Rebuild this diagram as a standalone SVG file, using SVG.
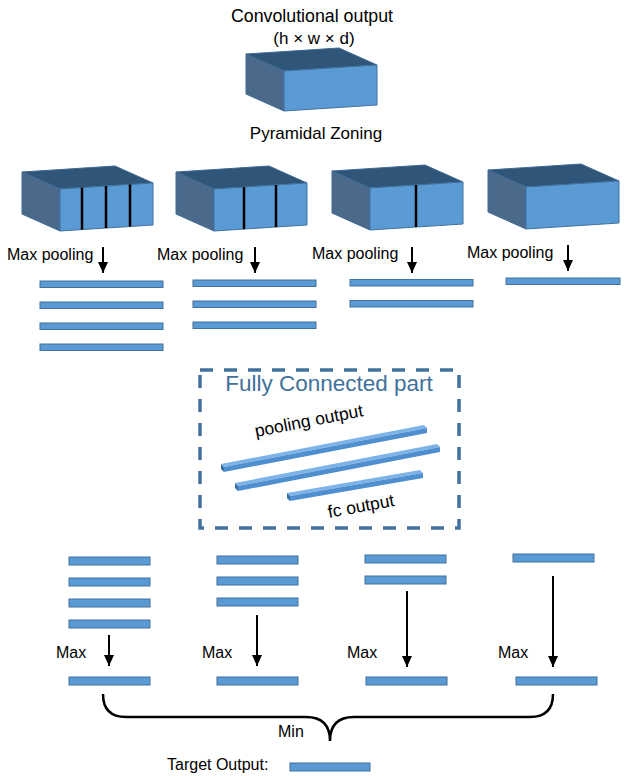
<svg xmlns="http://www.w3.org/2000/svg" xmlns:xlink="http://www.w3.org/1999/xlink" width="624" height="776" viewBox="0 0 624 776">
<style>
text{font-family:"Liberation Sans",Arial,sans-serif;fill:#000}
.t17{font-size:17px}
.t16{font-size:16px}
.top{fill:#2F5579;stroke:#3F6A94;stroke-width:1}
.left{fill:#4B6A8B;stroke:#3F6A94;stroke-width:1}
.front{fill:#5B9BD5;stroke:#41719C;stroke-width:1}
.bar{fill:#5B9BD5;stroke:#41719C;stroke-width:1}
.div{stroke:#000;stroke-width:2.5}
.arr{stroke:#000;stroke-width:2;fill:none;marker-end:url(#ah)}
.rtop{fill:#7DB3E6}
.rfront{fill:#4F8FCF}
.rcap{fill:#3B6EA0}
</style>
<defs>
<marker id="ah" markerUnits="userSpaceOnUse" markerWidth="11" markerHeight="10" refX="11" refY="5" orient="auto">
<path d="M0,0 L11,5 L0,10 z" fill="#000"/>
</marker>
<g id="box">
<polygon class="top" points="0,0 93,-6 131,11 38,17"/>
<polygon class="left" points="0,0 38,17 38,59 0,42"/>
<polygon class="front" points="38,17 131,11 131,53 38,59"/>
</g>
<g id="boxS">
<polygon class="top" points="0,0 93,-6 131,11 38,17"/>
<polygon class="left" points="0,0 38,17 38,57 0,40"/>
<polygon class="front" points="38,17 131,11 131,51 38,57"/>
</g>
</defs>

<g id="conv-output">
<text class="t17" x="312" y="22" text-anchor="middle" style="font-size:17.8px">Convolutional output</text>
<text class="t17" x="314" y="44" text-anchor="middle">(h × w × d)</text>
<use xlink:href="#boxS" transform="translate(246,54)"/>
</g>

<g id="pyramidal-zoning">
<text class="t17" x="316" y="139" text-anchor="middle">Pyramidal Zoning</text>
</g>

<g id="zone-4">
<use xlink:href="#box" transform="translate(22,172)"/>
<line class="div" x1="82" y1="187.6" x2="82" y2="229.6"/>
<line class="div" x1="106" y1="186" x2="106" y2="228"/>
<line class="div" x1="130" y1="184.5" x2="130" y2="226.5"/>
<text class="t16" x="7" y="260">Max pooling</text>
</g>
<g id="zone-3">
<use xlink:href="#box" transform="translate(176,172)"/>
<line class="div" x1="244" y1="187.1" x2="244" y2="229.1"/>
<line class="div" x1="276" y1="185" x2="276" y2="227"/>
<text class="t16" x="157" y="260">Max pooling</text>
</g>
<g id="zone-2">
<use xlink:href="#box" transform="translate(332,171)"/>
<line class="div" x1="416" y1="185" x2="416" y2="227"/>
<text class="t16" x="312" y="259">Max pooling</text>
</g>
<g id="zone-1">
<use xlink:href="#box" transform="translate(488,170)"/>
<text class="t16" x="467" y="258">Max pooling</text>
</g>

<g id="pooled-4">
<rect class="bar" x="40" y="281" width="123" height="6.5"/>
<rect class="bar" x="40" y="302" width="123" height="6.5"/>
<rect class="bar" x="40" y="323" width="123" height="6.5"/>
<rect class="bar" x="40" y="344" width="123" height="6.5"/>
</g>
<g id="pooled-3">
<rect class="bar" x="193" y="280" width="123" height="6.5"/>
<rect class="bar" x="193" y="301" width="123" height="6.5"/>
<rect class="bar" x="193" y="322" width="123" height="6.5"/>
</g>
<g id="pooled-2">
<rect class="bar" x="350" y="279.5" width="123" height="6.5"/>
<rect class="bar" x="350" y="300.5" width="123" height="6.5"/>
</g>
<g id="pooled-1">
<rect class="bar" x="506" y="278" width="114" height="6.5"/>
</g>

<g id="fully-connected">
<rect x="200" y="370" width="259" height="158" fill="none" stroke="#41719C" stroke-width="3.5" stroke-dasharray="13 11"/>
<text x="329" y="391" text-anchor="middle" style="font-size:22.5px;fill:#41719C">Fully Connected part</text>
<text transform="translate(256,437) rotate(-11)" style="font-size:17.5px">pooling output</text>
<text transform="translate(329,518) rotate(-10.5)" style="font-size:17.5px">fc output</text>
<polygon class="rtop" points="221,464 424,425 427,428 224,467"/>
<polygon class="rfront" points="224,467 427,428 427,433 224,472"/>
<polygon class="rcap" points="221,464 224,467 224,472 221,469"/>
<polygon class="rtop" points="235,483 437,444 440,447 238,486"/>
<polygon class="rfront" points="238,486 440,447 440,452 238,491"/>
<polygon class="rcap" points="235,483 238,486 238,491 235,488"/>
<polygon class="rtop" points="287,493 420,470 423,473 290,496"/>
<polygon class="rfront" points="290,496 423,473 423,478 290,501"/>
<polygon class="rcap" points="287,493 290,496 290,501 287,498"/>
</g>

<g id="fc-4">
<rect class="bar" x="69" y="557" width="81" height="8"/>
<rect class="bar" x="69" y="578" width="81" height="8"/>
<rect class="bar" x="69" y="599" width="81" height="8"/>
<rect class="bar" x="69" y="620" width="81" height="8"/>
<text class="t16" x="56" y="658">Max</text>
</g>
<g id="fc-3">
<rect class="bar" x="217" y="556" width="81" height="8"/>
<rect class="bar" x="217" y="577" width="81" height="8"/>
<rect class="bar" x="217" y="598" width="81" height="8"/>
<text class="t16" x="202" y="658">Max</text>
</g>
<g id="fc-2">
<rect class="bar" x="365" y="555" width="81" height="8"/>
<rect class="bar" x="365" y="576" width="81" height="8"/>
<text class="t16" x="347" y="658">Max</text>
</g>
<g id="fc-1">
<rect class="bar" x="513" y="554" width="81" height="8"/>
<text class="t16" x="498" y="658">Max</text>
</g>

<g id="max-4"><rect class="bar" x="69" y="677" width="81" height="8"/></g>
<g id="max-3"><rect class="bar" x="217" y="677" width="81" height="8"/></g>
<g id="max-2"><rect class="bar" x="366" y="677" width="81" height="8"/></g>
<g id="max-1"><rect class="bar" x="516" y="677" width="81" height="8"/></g>

<g id="min-label">
<text class="t16" x="278" y="737">Min</text>
</g>
<g id="target-output">
<text class="t16" x="167" y="770">Target Output:</text>
<rect class="bar" x="290" y="763" width="80" height="8"/>
</g>

<g id="connectors">
<line class="arr" x1="103" y1="247" x2="103" y2="273"/>
<line class="arr" x1="255" y1="247" x2="255" y2="273"/>
<line class="arr" x1="412" y1="247" x2="412" y2="273"/>
<line class="arr" x1="568" y1="245" x2="568" y2="271"/>
<line class="arr" x1="109" y1="635" x2="109" y2="666"/>
<line class="arr" x1="257" y1="615" x2="257" y2="666"/>
<line class="arr" x1="407" y1="591" x2="407" y2="667"/>
<line class="arr" x1="553" y1="576" x2="553" y2="667"/>
<path d="M103,694 Q103,717 126,717 L306,717 Q330,717 330,741 Q330,717 354,717 L530,717 Q553,717 553,694" fill="none" stroke="#000" stroke-width="2.5"/>
</g>
</svg>
